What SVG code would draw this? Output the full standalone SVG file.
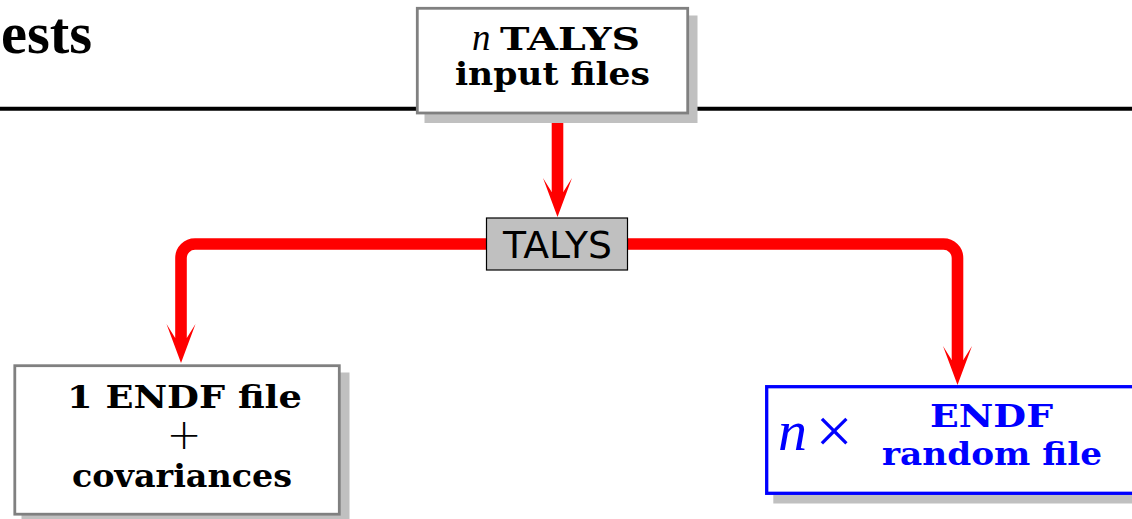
<svg xmlns="http://www.w3.org/2000/svg" width="1132" height="519" viewBox="0 0 1132 519">
  <style>
    .bf { font-family: "DejaVu Serif", "Liberation Serif", serif; font-weight: bold; font-size: 32px; fill: #000; }
    .mi { font-family: "Liberation Serif", "DejaVu Serif", serif; font-style: italic; }
    .rm { font-family: "Liberation Serif", "DejaVu Serif", serif; }
    .box { fill: #fff; stroke: #808080; stroke-width: 2.8; }
    .shadow { fill: #c0c0c0; }
    .blue { fill: #0000ff; }
    .wire { fill: none; stroke: #ff0000; stroke-width: 11.6; marker-end: url(#ah); }
  </style>
  <defs>
    <marker id="ah" markerUnits="userSpaceOnUse" viewBox="-16 -16 44 32" markerWidth="44" markerHeight="32" refX="0" refY="0" orient="auto" overflow="visible">
      <path d="M25,0 L-14,-14.5 L0,-5.8 L0,5.8 L-14,14.5 Z" fill="#ff0000"/>
    </marker>
  </defs>

  <rect width="1132" height="519" fill="#fff"/>

  <!-- heading fragment and rule -->
  <text x="1" y="53" font-family="Liberation Serif, serif" font-weight="bold" font-size="60" textLength="91" lengthAdjust="spacingAndGlyphs">ests</text>
  <line x1="0" y1="108.8" x2="1132" y2="108.8" stroke="#000" stroke-width="4"/>

  <!-- connectors -->
  <g id="connectors">
    <path class="wire" d="M557.5 112 V192"/>
    <path class="wire" d="M557.5 244 H195 A14 14 0 0 0 181 258 V338"/>
    <path class="wire" d="M557.5 244 H943.5 A14 14 0 0 1 957.5 258 V360"/>
  </g>

  <!-- input files -->
  <g id="node-input">
    <rect class="shadow" x="424.5" y="15.5" width="273" height="107.5"/>
    <rect class="box" x="417.3" y="8.3" width="270.4" height="104.7"/>
    <text class="mi" x="472" y="50" font-size="37">n</text>
    <text class="bf" x="500" y="50" textLength="140" lengthAdjust="spacingAndGlyphs">TALYS</text>
    <text class="bf" x="455" y="85" textLength="195" lengthAdjust="spacingAndGlyphs">input files</text>
  </g>

  <!-- TALYS code -->
  <g id="node-talys">
    <rect x="486.5" y="218" width="141" height="52" fill="#c0c0c0" stroke="#000" stroke-width="1.2"/>
    <text x="503" y="258" font-family="DejaVu Sans, sans-serif" font-size="38" textLength="109" lengthAdjust="spacingAndGlyphs">TALYS</text>
  </g>

  <!-- single evaluated file with covariances -->
  <g id="node-endf">
    <rect class="shadow" x="21.5" y="372.5" width="328" height="150"/>
    <rect class="box" x="14.8" y="365.7" width="324.5" height="148.5"/>
    <text class="bf" x="67" y="408" textLength="235" lengthAdjust="spacingAndGlyphs">1 ENDF file</text>
    <text x="184" y="449" font-family="DejaVu Sans, sans-serif" font-size="42" font-weight="300" text-anchor="middle">+</text>
    <text class="bf" x="72" y="487" textLength="220" lengthAdjust="spacingAndGlyphs">covariances</text>
  </g>

  <!-- random files -->
  <g id="node-random">
    <rect class="shadow" x="773.3" y="393.5" width="400" height="110"/>
    <rect x="766.7" y="386.7" width="400" height="106.6" fill="#fff" stroke="#0000ff" stroke-width="3.3"/>
    <text class="mi blue" x="778" y="450" font-size="58">n</text>
    <text class="rm blue" x="834" y="453" font-size="66" text-anchor="middle">×</text>
    <text class="bf blue" x="930" y="427" textLength="123" lengthAdjust="spacingAndGlyphs">ENDF</text>
    <text class="bf blue" x="882" y="465" textLength="220" lengthAdjust="spacingAndGlyphs">random file</text>
  </g>
</svg>
